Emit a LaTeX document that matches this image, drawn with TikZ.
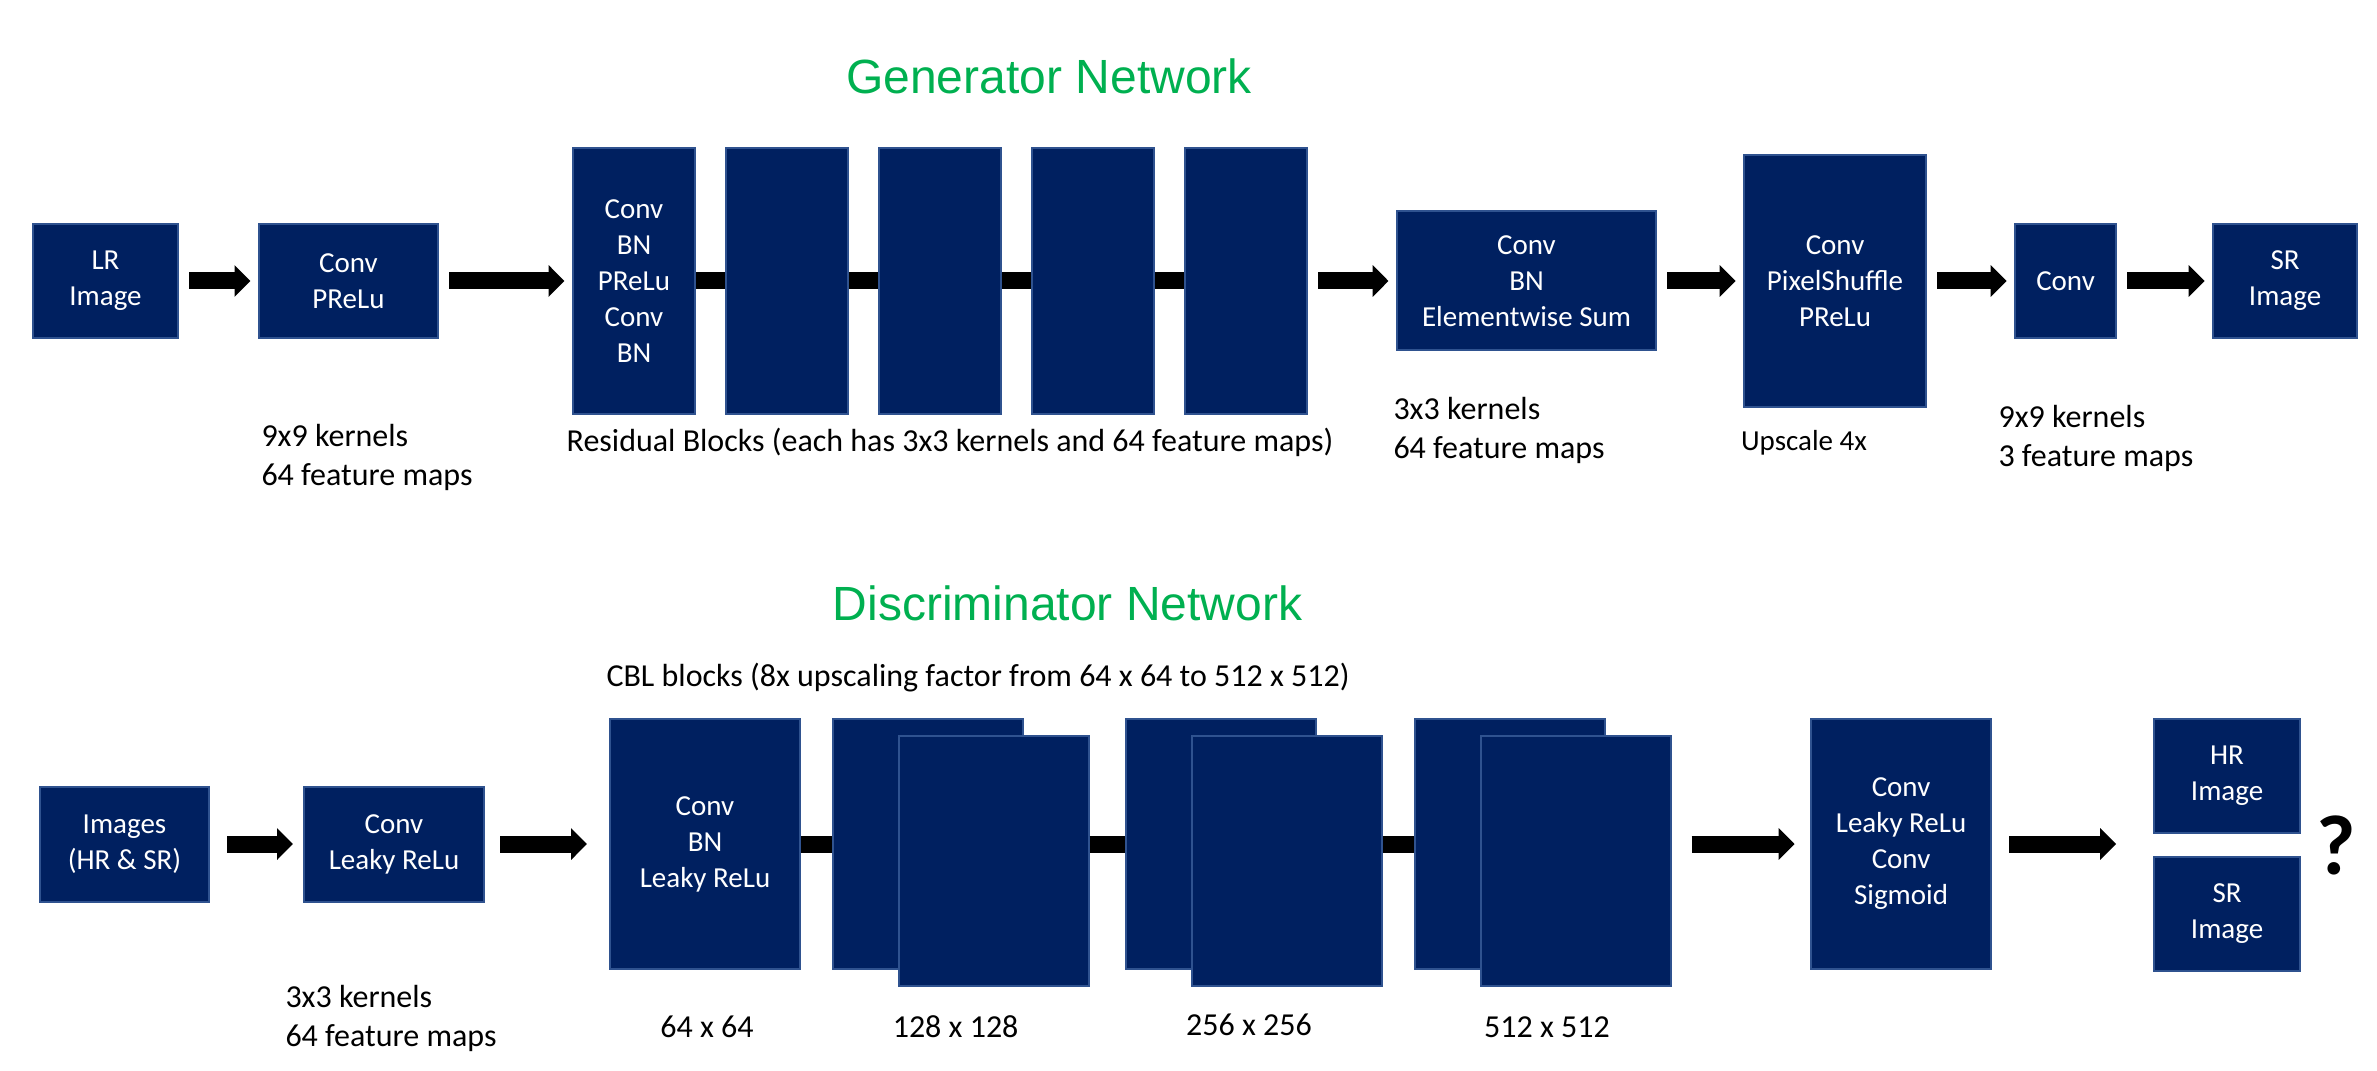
\documentclass[tikz,border=0pt]{standalone}
\usepackage{fontspec}
\setmainfont{Carlito}
\newfontfamily\arialfont{Liberation Sans}
\usepackage{tikz}
\usepackage{xcolor}
\usetikzlibrary{arrows.meta,calc,positioning}
\definecolor{navy}{HTML}{002060}
\definecolor{navyedge}{HTML}{2F528F}
\definecolor{titlegreen}{HTML}{00B050}

\begin{document}
\begin{tikzpicture}[
  x=0.4pt,y=-0.4pt,
  blk/.style={draw=navyedge,fill=navy,line width=0.8pt,text=white,align=center,inner sep=1pt,font=\fontsize{11.6}{14.4}\selectfont},
  res/.style={blk,minimum width=48.8pt,minimum height=106pt},
  cblk/.style={blk,minimum width=76pt,minimum height=100pt},
  arr/.style={-{Triangle[length=6.4pt,width=12.4pt]},line width=6.8pt,shorten <=4pt,shorten >=3pt},
  bar/.style={line width=6.8pt},
  lab/.style={font=\fontsize{12.8}{15.6}\selectfont,align=left,inner sep=0pt},
  ttl/.style={font=\arialfont\fontsize{19.2}{22}\selectfont,text=titlegreen,inner sep=0pt}
]
\useasboundingbox (0,0) rectangle (2377,1071);
\node[ttl] (gtitle) at (1049,76) {Generator Network};
\node[blk,minimum width=58pt,minimum height=45.6pt] (lr) at (105.5,281) {LR\\Image};
\node[blk,minimum width=71.6pt,minimum height=45.6pt,right=31.6pt of lr] (c1) {Conv\\PReLu};
\node[res,right=53.2pt of c1] (r1) {Conv\\BN\\PReLu\\Conv\\BN};
\foreach \i [remember=\i as \j (initially 1)] in {2,...,5}
  \node[res,right=11.6pt of r\j] (r\i) {};
\foreach \i [count=\k from 2] in {1,...,4}
  \draw[bar] (r\i) -- (r\k);
\node[blk,minimum width=103.6pt,minimum height=55.6pt,right=35.2pt of r5] (ew) {Conv\\BN\\Elementwise Sum};
\node[blk,minimum width=72.8pt,minimum height=100.4pt,right=34.4pt of ew] (ps) {Conv\\PixelShuffle\\PReLu};
\node[blk,minimum width=40.4pt,minimum height=45.6pt,right=34.8pt of ps] (c2) {Conv};
\node[blk,minimum width=57.6pt,minimum height=45.6pt,right=38pt of c2] (sr) {SR\\Image};
\draw[arr] (lr) -- (c1);
\draw[arr] (c1) -- (r1);
\draw[arr] (r5) -- (ew);
\draw[arr] (ew) -- (ps);
\draw[arr] (ps) -- (c2);
\draw[arr] (c2) -- (sr);
\node[lab,anchor=west] (l1) at (261,457.5) {9x9 kernels\\64 feature maps};
\node[lab] (l2) at (950,442) {Residual Blocks (each has 3x3 kernels and 64 feature maps)};
\node[lab,anchor=west] (l3) at (1393,430) {3x3 kernels\\64 feature maps};
\node[lab,font=\fontsize{11.6}{14}\selectfont] (l4) at (1804,443) {Upscale 4x};
\node[lab,anchor=west] (l5) at (1998,438) {9x9 kernels\\3 feature maps};

\node[ttl] (dtitle) at (1067.5,603) {Discriminator Network};
\node[lab,anchor=west] (cbl) at (606,678) {CBL blocks (8x upscaling factor from 64 x 64 to 512 x 512)};
\node[blk,minimum width=67.6pt,minimum height=46pt] (img) at (124.5,844) {Images\\(HR \& SR)};
\node[blk,minimum width=72pt,minimum height=46pt,right=37.2pt of img] (cl) {Conv\\Leaky ReLu};
\node[cblk,right=49.6pt of cl] (b64) {Conv\\BN\\Leaky ReLu};
\node[cblk,right=12.2pt of b64] (b128) {};
\node[cblk] (f128) at ([xshift=26.4pt,yshift=-6.8pt]b128.center) {};
\node[cblk,right=40.4pt of b128] (b256) {};
\node[cblk] (f256) at ([xshift=26.4pt,yshift=-6.8pt]b256.center) {};
\node[cblk,right=38.8pt of b256] (b512) {};
\node[cblk] (f512) at ([xshift=26.4pt,yshift=-6.8pt]b512.center) {};
\node[cblk,minimum width=72pt,right=81.8pt of b512] (fin) {Conv\\Leaky ReLu\\Conv\\Sigmoid};
\node[blk,minimum width=58.4pt,minimum height=45.6pt,anchor=north west] (hr) at ([xshift=64.4pt]fin.north east) {HR\\Image};
\node[blk,minimum width=58.4pt,minimum height=45.6pt,below=8.8pt of hr] (srd) {SR\\Image};
\coordinate (mid) at ($(hr.south east)!0.5!(srd.north east)$);
\node[font=\bfseries\fontsize{34}{34}\selectfont,inner sep=0pt] (qm) at ([xshift=14pt]mid) {?};
\draw[bar] (b64) -- (b128);
\draw[bar] (f128.east |- b256.west) -- (b256.west);
\draw[bar] (f256.east |- b512.west) -- (b512.west);
\draw[arr,shorten <=6.8pt,shorten >=4pt] (img) -- (cl);
\draw[arr,shorten <=6pt,shorten >=8.8pt] (cl) -- (b64);
\draw[arr,shorten <=8pt,shorten >=6.2pt] (f512.east |- fin.west) -- (fin.west);
\coordinate (hit) at ([xshift=-14.8pt]fin.east -| hr.west);
\draw[arr,shorten <=6.8pt,shorten >=0pt] (fin.east) -- (hit);
\node[lab,anchor=west] (l6) at (285,1018) {3x3 kernels\\64 feature maps};
\node[lab] (l7) at (707,1027) {64 x 64};
\node[lab] (l8) at (955.6,1027) {128 x 128};
\node[lab] (l9) at (1249,1025) {256 x 256};
\node[lab] (l10) at (1547,1027) {512 x 512};
\end{tikzpicture}
\end{document}
